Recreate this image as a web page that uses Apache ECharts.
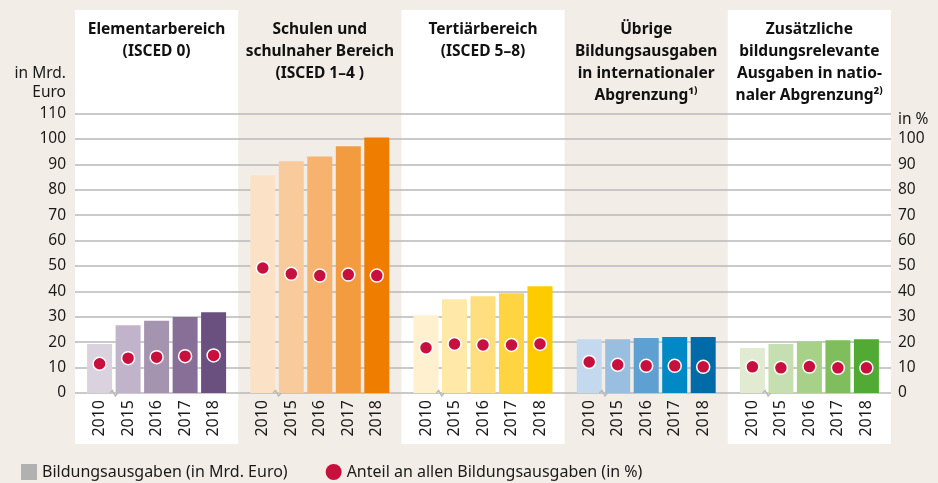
<!DOCTYPE html>
<html>
<head>
<meta charset="utf-8">
<script src="https://cdn.jsdelivr.net/npm/echarts@6/dist/echarts.min.js"></script>
<style>
  html, body { margin: 0; padding: 0; background: #f2eee7; }
  #main { width: 938px; height: 483px; }
</style>
</head>
<body>
<div id="main"></div>
<script>
var years = ['2010', '2015', '2016', '2017', '2018'];
var yTicks = [0, 110, 10];

var groupTitles = [
  'Elementarbereich\n(ISCED 0)',
  'Schulen und\nschulnaher Bereich\n(ISCED 1–4 )',
  'Tertiärbereich\n(ISCED 5–8)',
  'Übrige\nBildungsausgaben\nin internationaler\nAbgrenzung¹⁾',
  'Zusätzliche\nbildungsrelevante\nAusgaben in natio-\nnaler Abgrenzung²⁾'
];

// Bildungsausgaben in Mrd. Euro
var ausgabenElementar = [19.3, 26.7, 28.4, 29.9, 31.8];
var ausgabenSchulen = [85.7, 91.2, 93.1, 97.1, 100.6];
var ausgabenTertiaer = [30.6, 36.9, 38.1, 39.3, 42.0];
var ausgabenUebrige = [21.2, 21.2, 21.6, 22.0, 22.0];
var ausgabenZusaetzlich = [17.7, 19.3, 20.4, 20.8, 21.2];

// Anteil an allen Bildungsausgaben in %
var anteilElementar = [11.5, 13.7, 14.1, 14.5, 14.8];
var anteilSchulen = [49.2, 46.9, 46.2, 46.6, 46.2];
var anteilTertiaer = [17.8, 19.3, 18.9, 18.9, 19.3];
var anteilUebrige = [12.2, 11.1, 10.7, 10.7, 10.3];
var anteilZusaetzlich = [10.3, 9.9, 10.4, 9.9, 9.9];

var ausgaben = [ausgabenElementar, ausgabenSchulen, ausgabenTertiaer, ausgabenUebrige, ausgabenZusaetzlich];
var anteile = [anteilElementar, anteilSchulen, anteilTertiaer, anteilUebrige, anteilZusaetzlich];

var barColors = [
  ['#dad2df', '#c1b4ca', '#a494b0', '#876f97', '#69507f'],
  ['#fbe1c6', '#f9cb9c', '#f6b370', '#f29b3f', '#ee7d00'],
  ['#fff1cf', '#ffe8a8', '#fede7e', '#fed443', '#fecb00'],
  ['#c4d9ed', '#98bee0', '#5da0d1', '#0089c4', '#006ba7'],
  ['#e0ebd2', '#c6dfb1', '#a7d088', '#80bd5c', '#50aa33']
];

var seriesAusgaben = 'Bildungsausgaben (in Mrd. Euro)';
var seriesAnteil = 'Anteil an allen Bildungsausgaben (in %)';

var font = 'Noto Sans';
var textColor = '#1a1a1a';
var panelLeft = 75, panelW = 163.2, panelPad = 10.35;
var plotTop = 113.5, plotH = 279.5;

var myChart = echarts.init(document.getElementById('main'));

var grids = [], xAxes = [], yAxes = [], series = [];
for (var g = 0; g < 5; g++) {
  grids.push({ left: panelLeft + panelW * g + panelPad, width: panelW - 2 * panelPad, top: plotTop, height: plotH });
  xAxes.push({
    type: 'category', gridIndex: g, data: years,
    axisLine: { show: false }, axisTick: { show: false },
    axisLabel: { rotate: 90, margin: 7, fontSize: 16, fontFamily: font, color: textColor }
  });
  yAxes.push({ type: 'value', gridIndex: g, min: yTicks[0], max: yTicks[1], interval: yTicks[2], show: false });
  series.push({
    name: seriesAusgaben, type: 'bar', xAxisIndex: g, yAxisIndex: g, barWidth: 25,
    data: ausgaben[g].map(function (v, j) { return { value: v, itemStyle: { color: barColors[g][j] } }; })
  });
  series.push({
    name: seriesAnteil, type: 'scatter', xAxisIndex: g, yAxisIndex: g, z: 4,
    symbolSize: 13,
    itemStyle: { color: '#c8103e', borderColor: '#fff', borderWidth: 1.5, opacity: 1 },
    data: anteile[g]
  });
}

// background grid carrying the gridlines and both value axes
grids.push({ left: panelLeft, width: panelW * 5, top: plotTop, height: plotH });
xAxes.push({ type: 'category', gridIndex: 5, data: [''], show: false });
yAxes.push({
  type: 'value', gridIndex: 5, position: 'left', min: yTicks[0], max: yTicks[1], interval: yTicks[2],
  axisLine: { show: false }, axisTick: { show: false },
  axisLabel: { margin: 9, fontSize: 15.5, fontFamily: font, color: textColor },
  splitLine: { lineStyle: { color: '#b9b9b9', width: 1.5 } }
});
yAxes.push({
  type: 'value', gridIndex: 5, position: 'right', min: yTicks[0], max: yTicks[1], interval: yTicks[2],
  axisLine: { show: false }, axisTick: { show: false }, splitLine: { show: false },
  axisLabel: {
    margin: 7, fontSize: 15.5, fontFamily: font, color: textColor,
    formatter: function (v) { return v > 100 ? '' : v; }
  }
});

function baseGraphics() {
  var items = [];
  for (var i = 0; i < 5; i++) {
    if (i % 2 === 0) {
      items.push({
        type: 'rect', z: -100, silent: true,
        shape: { x: panelLeft + panelW * i, y: 10, width: panelW, height: 434 },
        style: { fill: '#ffffff' }
      });
    }
    items.push({
      type: 'text', z: 10, x: panelLeft + panelW * i + panelW / 2, y: 19,
      style: {
        text: groupTitles[i], fill: '#111', textAlign: 'center', textVerticalAlign: 'top',
        font: 'bold 15.5px "Noto Sans"', lineHeight: 22
      }
    });
  }
  items.push({
    type: 'text', x: 66, y: 64,
    style: { text: 'in Mrd.\nEuro', fill: textColor, textAlign: 'right', textVerticalAlign: 'top', font: '15.5px "Noto Sans"', lineHeight: 19 }
  });
  items.push({
    type: 'text', x: 898, y: 120,
    style: { text: 'in %', fill: textColor, textAlign: 'left', textVerticalAlign: 'middle', font: '15.5px "Noto Sans"' }
  });
  return items;
}

var option = {
  backgroundColor: '#f2eee7',
  animation: false,
  textStyle: { fontFamily: font },
  grid: grids,
  xAxis: xAxes,
  yAxis: yAxes,
  legend: {
    left: 21, top: 464, padding: 0, itemWidth: 16, itemHeight: 16, itemGap: 38,
    textStyle: { fontSize: 16, fontFamily: font, color: textColor },
    data: [
      { name: seriesAusgaben, icon: 'rect', itemStyle: { color: '#b1b1b1' } },
      { name: seriesAnteil, icon: 'circle', itemStyle: { color: '#c8103e', borderWidth: 0 } }
    ]
  },
  graphic: baseGraphics(),
  series: series
};
myChart.setOption(option);

// small axis-break zigzag between 2010 and 2015 in every panel
var graphics = baseGraphics();
for (var k = 0; k < 5; k++) {
  var xa = myChart.convertToPixel({ xAxisIndex: k }, years[0]);
  var xb = myChart.convertToPixel({ xAxisIndex: k }, years[1]);
  var y0 = myChart.convertToPixel({ yAxisIndex: k }, 0);
  var cx = (xa + xb) / 2;
  graphics.push({
    type: 'polyline', z: 5, silent: true,
    shape: { points: [[cx - 4, y0], [cx - 1.5, y0 - 2.5], [cx + 1.5, y0 + 3], [cx + 4, y0]] },
    style: { stroke: '#b9b9b9', lineWidth: 1.5, fill: 'none' }
  });
}
myChart.setOption({ graphic: graphics });
</script>
</body>
</html>
